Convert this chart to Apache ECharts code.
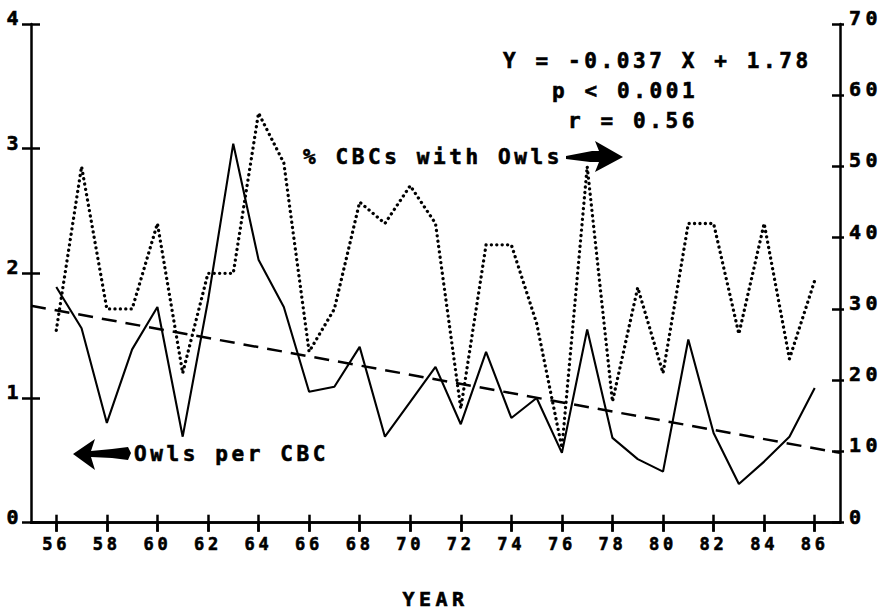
<!DOCTYPE html>
<html><head><meta charset="utf-8">
<script src="https://cdn.jsdelivr.net/npm/echarts@6/dist/echarts.min.js"></script>
<style>
html,body{margin:0;padding:0;background:#fff}
#c{width:882px;height:614px}
</style></head><body><div id="c"></div>
<script>
// ---- data ----
const YEARS = [56,57,58,59,60,61,62,63,64,65,66,67,68,69,70,71,72,73,74,75,76,77,78,79,80,81,82,83,84,85,86];
const OWLS_PER_CBC = [1.89,1.56,0.80,1.39,1.73,0.69,1.78,3.04,2.11,1.73,1.05,1.09,1.41,0.69,0.97,1.25,0.79,1.37,0.84,1.00,0.56,1.55,0.68,0.51,0.41,1.47,0.72,0.31,0.49,0.69,1.08];
const PCT_CBC_WITH_OWLS = [27,50,30,30,42,21,35,35,57.5,50.5,24,30,45,42,47.3,42,16,39,39,28,10.5,50,17,33,21,42,42,26.5,42,23,34];
const TREND_YEARS = [55, 87];
const TREND_VALUES = [1.74, 0.56];
const X_TICKS = [56,58,60,62,64,66,68,70,72,74,76,78,80,82,84,86];
const X_RANGE = [55, 87];
const LEFT_RANGE = [0, 4, 1];
const RIGHT_RANGE = [0, 70, 10];
const ANNOTATIONS = ['Y = -0.037 X + 1.78', 'p < 0.001', 'r = 0.56'];
const LABEL_RIGHT = '% CBCs with Owls';
const LABEL_LEFT = 'Owls per CBC';
const X_NAME = 'YEAR';

// ---- chart ----
const FONT = '"DejaVu Sans Mono", monospace';
const AX = {color:'#000', width:2.5};
const pairs = (xs, ys) => xs.map((x, i) => [x, ys[i]]);

const chart = echarts.init(document.getElementById('c'), null, {renderer:'svg'});
const xBase = {type:'value', min:X_RANGE[0], max:X_RANGE[1], splitLine:{show:false}};
const lab = (size) => ({color:'#000', fontFamily:FONT, fontWeight:'bold', fontSize:size, textBorderColor:'#000', textBorderWidth:0.6});
const ANN_FONT = 'bold 21px ' + FONT;
const ann = (x, y, text) => ({type:'text', x:x, y:y, style:{text:text, font:ANN_FONT, fill:'#000', stroke:'#000', lineWidth:0.6, textAlign:'left', textVerticalAlign:'middle'}});

chart.setOption({
  animation:false,
  backgroundColor:'#fff',
  grid:{left:31, right:42, top:24, bottom:91, containLabel:false},
  xAxis:[
    Object.assign({}, xBase, {position:'bottom', name:X_NAME, nameLocation:'middle', nameGap:66,
      nameTextStyle:lab(20),
      axisLine:{show:true, lineStyle:AX},
      axisTick:{show:true, inside:false, length:9, customValues:X_TICKS, lineStyle:AX},
      axisLabel:Object.assign({show:true, margin:13, customValues:X_TICKS, formatter:v=>String(v)}, lab(17))}),
    Object.assign({}, xBase, {position:'bottom',
      axisLine:{show:false},
      axisTick:{show:true, inside:true, length:8, customValues:X_TICKS, lineStyle:AX},
      axisLabel:{show:false}}),
    Object.assign({}, xBase, {position:'top',
      axisLine:{show:true, lineStyle:AX},
      axisTick:{show:true, inside:true, length:9, customValues:X_TICKS, lineStyle:AX},
      axisLabel:{show:false}})
  ],
  yAxis:[
    {type:'value', position:'left', min:LEFT_RANGE[0], max:LEFT_RANGE[1], interval:LEFT_RANGE[2], splitLine:{show:false},
      axisLine:{show:true, lineStyle:AX},
      axisTick:{show:true, inside:false, length:9, lineStyle:AX},
      axisLabel:Object.assign({margin:8, verticalAlign:'bottom', lineHeight:12}, lab(20))},
    {type:'value', position:'right', min:RIGHT_RANGE[0], max:RIGHT_RANGE[1], interval:RIGHT_RANGE[2], splitLine:{show:false},
      axisLine:{show:true, lineStyle:AX},
      axisTick:{show:true, inside:true, length:8, lineStyle:AX},
      axisLabel:Object.assign({margin:9, verticalAlign:'bottom', lineHeight:12}, lab(20))},
    {type:'value', position:'left', min:LEFT_RANGE[0], max:LEFT_RANGE[1], interval:LEFT_RANGE[2], splitLine:{show:false},
      axisLine:{show:false},
      axisTick:{show:true, inside:true, length:9, lineStyle:AX},
      axisLabel:{show:false}},
    {type:'value', position:'right', min:RIGHT_RANGE[0], max:RIGHT_RANGE[1], interval:RIGHT_RANGE[2], splitLine:{show:false},
      axisLine:{show:false},
      axisTick:{show:true, inside:false, length:4, lineStyle:AX},
      axisLabel:{show:false}}
  ],
  series:[
    {name:'Owls per CBC', type:'line', xAxisIndex:0, yAxisIndex:0, data:pairs(YEARS, OWLS_PER_CBC),
      showSymbol:false, symbol:'none', lineStyle:{color:'#000', width:2.1}, z:3},
    {name:'% CBCs with Owls', type:'line', xAxisIndex:0, yAxisIndex:1, data:pairs(YEARS, PCT_CBC_WITH_OWLS),
      showSymbol:false, symbol:'none', lineStyle:{color:'#000', width:3.3, type:[0.1,5.3], cap:'round', join:'round'}, z:3},
    {name:'Trend', type:'line', xAxisIndex:0, yAxisIndex:0, data:pairs(TREND_YEARS, TREND_VALUES),
      showSymbol:false, symbol:'none', lineStyle:{color:'#000', width:2.5, type:[15,9]}, z:2}
  ],
  graphic:[
    ann(503, 61, ANNOTATIONS[0]),
    ann(552, 91, ANNOTATIONS[1]),
    ann(568, 121, ANNOTATIONS[2]),
    ann(303, 157, LABEL_RIGHT),
    ann(134, 454, LABEL_LEFT),
    {type:'polygon', shape:{points:[[566,156],[592,151],[599,151],[595,141],[623,157],[595,172],[599,162],[590,162],[566,159]]}, style:{fill:'#000'}},
    {type:'polygon', shape:{points:[[73,454],[95,439],[91,451],[112,449],[128,447],[131,453],[128,460],[112,458],[91,457],[95,470]]}, style:{fill:'#000'}}
  ]
});

// wide plotter-style letter spacing, by font size
function spaceText(){
  document.querySelectorAll('#c svg text').forEach(t => {
    const fs = parseFloat(getComputedStyle(t).fontSize) || 20;
    const ls = fs < 18.5 ? 3.8 : (fs < 20.5 ? 4.5 : 3.6);
    t.style.letterSpacing = ls + 'px';
  });
}
spaceText();
chart.on('finished', spaceText);
</script></body></html>
